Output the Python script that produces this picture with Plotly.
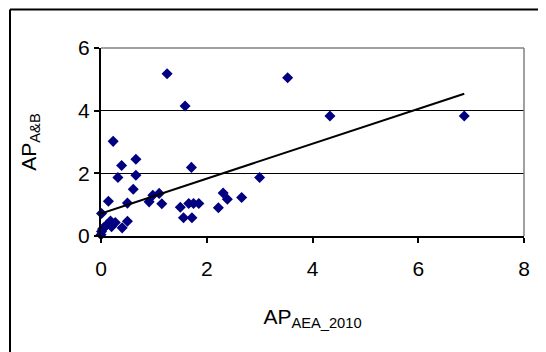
import plotly.graph_objects as go

# Data
ap_aea_2010 = [1.25, 3.53, 1.59, 4.33, 6.87, 0.23, 0.66, 0.39, 1.71, 0.32,
               0.66, 3.00, 0.61, 0.14, 0.50, 0.91, 0.98, 1.10, 1.15, 1.50,
               1.66, 1.75, 1.85, 1.56, 1.72, 2.22, 2.31, 2.39, 2.66, 0.01,
               0.50, 0.40, 0.27, 0.18, 0.11, 0.20, 0.03, 0.01, 0.00, 0.06]
ap_ab = [5.18, 5.05, 4.15, 3.83, 3.83, 3.02, 2.45, 2.25, 2.19, 1.87,
         1.94, 1.87, 1.49, 1.11, 1.05, 1.09, 1.30, 1.36, 1.03, 0.92,
         1.04, 1.04, 1.04, 0.58, 0.58, 0.90, 1.37, 1.17, 1.23, 0.72,
         0.47, 0.26, 0.43, 0.48, 0.36, 0.30, 0.22, 0.14, 0.04, 0.28]

# Linear trend line coefficients
trend_intercept = 0.72
trend_slope = 0.556

x_ticks = [0, 2, 4, 6, 8]
y_ticks = [0, 2, 4, 6]

x_min, x_max = min(ap_aea_2010), max(ap_aea_2010)
trend_x = [x_min, x_max]
trend_y = [trend_intercept + trend_slope * v for v in trend_x]

font_family = "Liberation Sans, Arial, sans-serif"

fig = go.Figure()
fig.add_trace(go.Scatter(
    x=ap_aea_2010, y=ap_ab, mode="markers",
    marker=dict(symbol="diamond", size=8.5, color="#000080"),
    showlegend=False, cliponaxis=False,
))
fig.add_trace(go.Scatter(
    x=trend_x, y=trend_y, mode="lines",
    line=dict(color="black", width=2),
    showlegend=False,
))

# page body has an 8px margin, so the figure is placed at (8, 8)
W, H = 538, 344
L, R, T, B = 93, 22, 40, 116
pw, ph = W - L - R, H - T - B

def px_x(p):
    return (p - L) / pw

def px_y(p):
    return (H - B - p) / ph

frame = dict(color="black", width=2)
shapes = [
    # plot area border (gray) top and right
    dict(type="line", xref="paper", yref="paper", x0=0, x1=1, y0=1, y1=1,
         line=dict(color="#808080", width=1.5), layer="above"),
    dict(type="line", xref="paper", yref="paper", x0=1, x1=1, y0=0, y1=1,
         line=dict(color="#808080", width=1.5), layer="above"),
    # outer chart frame (left and top edges visible)
    dict(type="line", xref="paper", yref="paper",
         x0=px_x(2), x1=px_x(2), y0=px_y(H), y1=px_y(1.5),
         line=frame, layer="above"),
    dict(type="line", xref="paper", yref="paper",
         x0=px_x(2), x1=px_x(W), y0=px_y(1.5), y1=px_y(1.5),
         line=frame, layer="above"),
]

fig.update_layout(
    width=W, height=H,
    margin=dict(l=L, r=R, t=T, b=B),
    paper_bgcolor="white", plot_bgcolor="white",
    font=dict(family=font_family, size=21, color="black"),
    shapes=shapes,
    xaxis=dict(
        range=[0, 8], tickvals=x_ticks, ticktext=[str(v) for v in x_ticks],
        showgrid=False, zeroline=False,
        showline=True, linecolor="black", linewidth=2,
        ticks="outside", ticklen=5, tickwidth=1.5, tickcolor="black",
        ticklabelstandoff=8,
        title=dict(text="AP<sub>AEA_2010</sub>", standoff=30,
                   font=dict(size=21)),
    ),
    yaxis=dict(
        range=[0, 6], tickvals=y_ticks, ticktext=[str(v) for v in y_ticks],
        showgrid=True, gridcolor="black", gridwidth=1, zeroline=False,
        showline=True, linecolor="black", linewidth=2,
        ticks="outside", ticklen=5, tickwidth=1.5, tickcolor="black",
        title=dict(text="AP<sub>A&B</sub>", standoff=36,
                   font=dict(size=21)),
    ),
)

fig.write_html("out.html")
